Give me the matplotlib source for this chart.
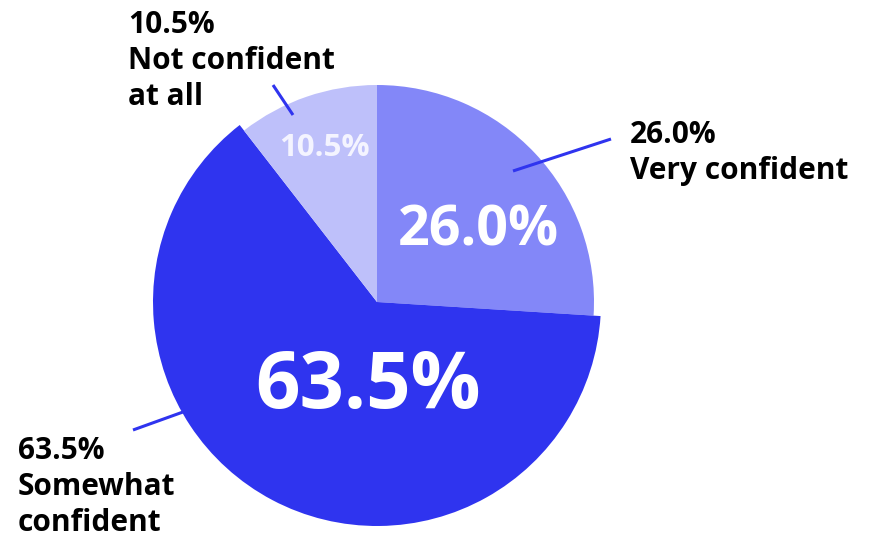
import matplotlib
matplotlib.use("Agg")
import matplotlib.pyplot as plt
import numpy as np

# Survey: confidence levels
categories = ["Very confident", "Somewhat confident", "Not confident at all"]
values = [26.0, 63.5, 10.5]
colors = ["#8387F8", "#2F34EF", "#BEC0FA"]

W, H = 869, 535
plt.rcParams["font.family"] = ["Open Sans", "DejaVu Sans"]

fig = plt.figure(figsize=(W / 100, H / 100), dpi=100)
ax = fig.add_axes([0, 0, 1, 1])


def py(y):
    """Convert a top-down pixel row into axes y."""
    return H - y


cx, cy = 377, py(302)
base_r = 217
wedges, _ = ax.pie(values, colors=colors, startangle=90, counterclock=False,
                   center=(cx, cy), radius=base_r, frame=True,
                   wedgeprops=dict(linewidth=0))
ax.set_xlim(0, W)
ax.set_ylim(0, H)
ax.set_aspect("equal")
ax.axis("off")
# highlighted (largest) slice drawn slightly larger
imax = int(np.argmax(values))
wedges[imax].set_radius(224)

# in-slice value labels
inner = [
    dict(x=478, y=246, size=40, color="white"),
    dict(x=368, y=408, size=56, color="white"),
    dict(x=324, y=156, size=22.5, color="#F4F4FF"),
]
for v, spec in zip(values, inner):
    ax.text(spec["x"], py(spec["y"]), f"{v:.1f}%", ha="center", va="baseline",
            fontsize=spec["size"], color=spec["color"], fontweight="bold")

# outside labels with connector lines
outer = [
    dict(x=630, y=143, lines=["Very confident"], seg=((513, 171), (611, 139))),
    dict(x=18, y=459, lines=["Somewhat", "confident"], seg=((183, 412), (133, 430))),
    dict(x=128, y=33, lines=["Not confident", "at all"], seg=((293, 115), (273, 85))),
]
line_gap = 36
for v, spec in zip(values, outer):
    (x0, y0), (x1, y1) = spec["seg"]
    ax.plot([x0, x1], [py(y0), py(y1)], color="#2F34EF", lw=2.2,
            solid_capstyle="butt")
    for k, t in enumerate([f"{v:.1f}%"] + spec["lines"]):
        ax.text(spec["x"], py(spec["y"] + k * line_gap), t, ha="left",
                va="baseline", fontsize=21.5, color="#000000",
                fontweight="bold")

fig.savefig("out.png", dpi=100)
